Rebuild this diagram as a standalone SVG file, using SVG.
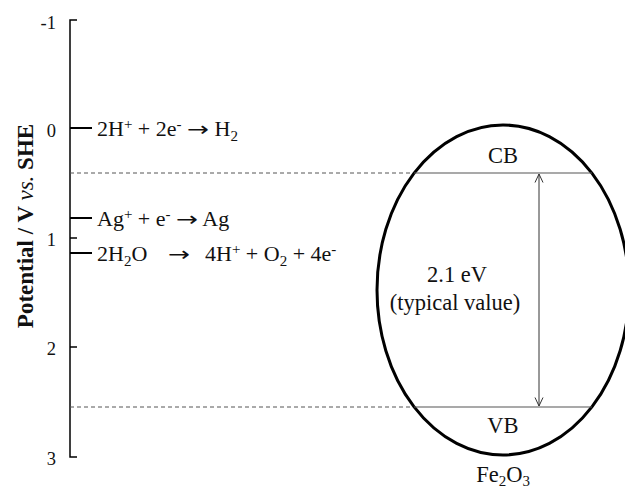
<svg xmlns="http://www.w3.org/2000/svg" width="625" height="490" viewBox="0 0 625 490">
<style>
text{font-family:"Liberation Serif","Times New Roman",serif;fill:#111}
.tick{font-size:18.5px;text-anchor:end}
.rx{font-size:22px}
.lab{font-size:22.5px;text-anchor:middle}
.sm{font-size:15px}
.ar{font-family:"DejaVu Sans",sans-serif;font-size:20px}
.axis{stroke:#000;stroke-width:1.5;fill:none}
.rl{stroke:#000;stroke-width:2}
.dash{stroke:#555;stroke-width:1;stroke-dasharray:4 3}
.band{stroke:#555;stroke-width:1.2}
</style>
<defs>
<marker id="ah" viewBox="0 0 10 10" refX="9.5" refY="5" markerWidth="10" markerHeight="10" markerUnits="userSpaceOnUse" orient="auto-start-reverse">
<path d="M1,1 L9.5,5 L1,9" fill="none" stroke="#333" stroke-width="1"/>
</marker>
</defs>
<g id="axis">
<path class="axis" d="M77,20 H70 V457 H77"/>
<line class="axis" x1="70" y1="238" x2="77" y2="238"/>
<line class="axis" x1="70" y1="347" x2="77" y2="347"/>
<text class="tick" x="56" y="29">-1</text>
<text class="tick" x="56" y="137">0</text>
<text class="tick" x="56" y="246">1</text>
<text class="tick" x="56" y="355">2</text>
<text class="tick" x="56" y="465">3</text>
<text transform="translate(33,226) rotate(-90)" text-anchor="middle" font-size="23" font-weight="bold">Potential / V <tspan font-style="italic" font-weight="normal">vs.</tspan> SHE</text>
</g>
<g id="connectors">
<line class="dash" x1="70" y1="173" x2="414" y2="173"/>
<line class="dash" x1="70" y1="407" x2="414" y2="407"/>
<line x1="539" y1="174" x2="539" y2="406" stroke="#333" stroke-width="1" marker-start="url(#ah)" marker-end="url(#ah)"/>
</g>
<g id="h2">
<line class="rl" x1="70" y1="128" x2="92" y2="128"/>
<text class="rx" x="97" y="136">2H<tspan class="sm" dy="-7">+</tspan><tspan dy="7"> + 2e</tspan><tspan class="sm" dy="-7">-</tspan><tspan dy="7"> </tspan><tspan class="ar" textLength="22" lengthAdjust="spacingAndGlyphs">→</tspan><tspan> H</tspan><tspan class="sm" dy="5">2</tspan></text>
</g>
<g id="ag">
<line class="rl" x1="70" y1="218" x2="92" y2="218"/>
<text class="rx" x="97" y="226">Ag<tspan class="sm" dy="-7">+</tspan><tspan dy="7"> + e</tspan><tspan class="sm" dy="-7">-</tspan><tspan dy="7"> </tspan><tspan class="ar" textLength="22" lengthAdjust="spacingAndGlyphs">→</tspan><tspan> Ag</tspan></text>
</g>
<g id="o2">
<line class="rl" x1="70" y1="253" x2="92" y2="253"/>
<text class="rx" x="97" y="261">2H<tspan class="sm" dy="5">2</tspan><tspan dy="-5">O</tspan><tspan class="ar" x="168" textLength="22" lengthAdjust="spacingAndGlyphs">→</tspan><tspan x="205">4H</tspan><tspan class="sm" dy="-7">+</tspan><tspan dy="7"> + O</tspan><tspan class="sm" dy="5">2</tspan><tspan dy="-5"> + 4e</tspan><tspan class="sm" dy="-7">-</tspan></text>
</g>
<g id="fe2o3">
<ellipse cx="503" cy="290" rx="126" ry="165" fill="none" stroke="#000" stroke-width="3"/>
<line class="band" x1="414" y1="173" x2="592" y2="173"/>
<line class="band" x1="414" y1="407" x2="592" y2="407"/>
<text class="lab" x="503" y="163">CB</text>
<text class="lab" x="503" y="433">VB</text>
<text class="lab" x="457" y="282">2.1 eV</text>
<text class="lab" x="455" y="310">(typical value)</text>
<text class="lab" x="503" y="482">Fe<tspan class="sm" dy="4">2</tspan><tspan dy="-4">O</tspan><tspan class="sm" dy="4">3</tspan></text>
</g>
</svg>
